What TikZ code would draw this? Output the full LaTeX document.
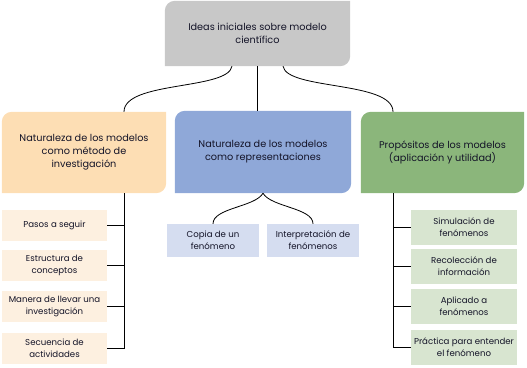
\documentclass[tikz,border=0pt]{standalone}
\usepackage{fontspec}
\setmainfont{Poppins}
\usetikzlibrary{backgrounds}
\definecolor{gris}{RGB}{200,200,200}
\definecolor{naranja}{RGB}{253,222,180}
\definecolor{naranjasub}{RGB}{253,240,224}
\definecolor{azul}{RGB}{143,168,216}
\definecolor{azulsub}{RGB}{213,221,240}
\definecolor{verde}{RGB}{139,182,123}
\definecolor{verdesub}{RGB}{216,229,208}
\definecolor{tinta}{RGB}{20,20,40}
\begin{document}
\begin{tikzpicture}[x=1pt, y=-1pt,
  every node/.style={font=\fontsize{9.7}{13}\selectfont, align=center, text=tinta},
  idea/.style={rectangle, minimum width=164pt, minimum height=81pt, inner sep=2pt},
  sub/.style={rectangle, font=\fontsize{8.6}{12}\selectfont, minimum width=105pt, minimum height=31pt, inner sep=1pt},
  enlace/.style={line width=0.8pt, black}
]
\useasboundingbox (0,0) rectangle (527,367);

% Idea central
\node[idea, minimum width=185pt, minimum height=65pt] (top) at (257.5,33.5) {Ideas iniciales sobre modelo\\científico};

% Tres ramas
\node[idea] (metodo) at (84,152.5) {Naturaleza de los modelos\\como método de\\investigación};
\node[idea, minimum width=176pt, minimum height=82pt] (repr) at (263,152) {Naturaleza de los modelos\\como representaciones};
\node[idea, minimum width=163pt] (prop) at (442.5,152.5) {Propósitos de los modelos\\(aplicación y utilidad)};

% Fondos con dos esquinas redondeadas
\begin{scope}[on background layer]
\foreach \n/\c in {top/gris, metodo/naranja, repr/azul, prop/verde}
  \fill[\c] (\n.south west) -- ([yshift=-10pt]\n.north west) arc[start angle=180, end angle=90, radius=10pt]
    -- (\n.north east) -- ([yshift=10pt]\n.south east) arc[start angle=0, end angle=-90, radius=10pt] -- cycle;
\end{scope}

% Rama izquierda
\node[sub, fill=naranjasub] (m1) at (54.5,225) {Pasos a seguir};
\node[sub, fill=naranjasub] (m2) at (54.5,265) {Estructura de\\conceptos};
\node[sub, fill=naranjasub] (m3) at (54.5,306.5) {Manera de llevar una\\investigación};
\node[sub, fill=naranjasub] (m4) at (54.5,348.5) {Secuencia de\\actividades};

% Rama central
\node[sub, fill=azulsub, minimum width=92pt, minimum height=33pt] (r1) at (213,240.5) {Copia de un\\fenómeno};
\node[sub, fill=azulsub, minimum width=92pt, minimum height=33pt] (r2) at (313,240.5) {Interpretación de\\fenómenos};

% Rama derecha
\node[sub, fill=verdesub, minimum width=106pt, minimum height=35pt] (p1) at (464,227) {Simulación de\\fenómenos};
\node[sub, fill=verdesub, minimum width=106pt, minimum height=35pt] (p2) at (464,266) {Recolección de\\información};
\node[sub, fill=verdesub, minimum width=106pt, minimum height=35pt] (p3) at (464,306) {Aplicado a\\fenómenos};
\node[sub, fill=verdesub, minimum width=106pt, minimum height=35pt] (p4) at (464,347) {Práctica para entender\\el fenómeno};

% Conectores
\coordinate (mtronco) at (124,193);
\coordinate (ptronco) at (393,193);
\draw[enlace] ([xshift=-25.5pt]top.south) .. controls +(-4,24) and +(0,-31) .. (metodo.north -| mtronco);
\draw[enlace] ([xshift=25.5pt]top.south) .. controls +(4,24) and +(0,-31) .. (prop.north -| ptronco);
\draw[enlace] (top.south) -- (top.south |- repr.north);
\draw[enlace] (repr.south) .. controls +(-8,14) and +(0,-16) .. (r1.north);
\draw[enlace] (repr.south) .. controls +(8,14) and +(0,-16) .. (r2.north);
\draw[enlace] (mtronco) |- (m4.east);
\foreach \s in {m1,m2,m3}
  \draw[enlace] (\s.east) -- (\s.east -| mtronco);
\draw[enlace] (ptronco) |- (p4.west);
\foreach \s in {p1,p2,p3}
  \draw[enlace] (\s.west) -- (\s.west -| ptronco);
\end{tikzpicture}
\end{document}
